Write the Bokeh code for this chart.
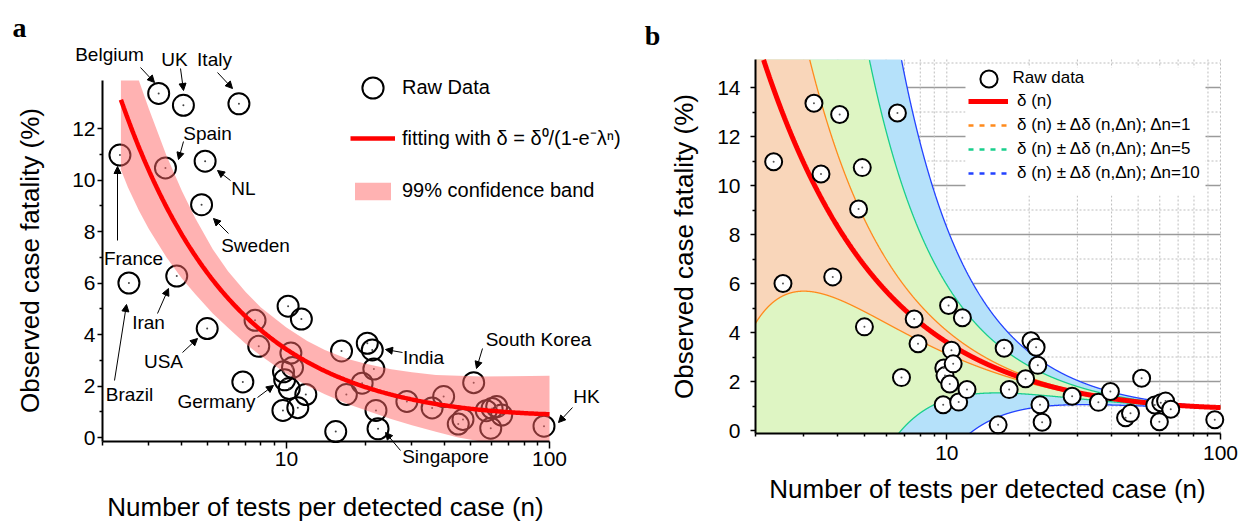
import numpy as np
from bokeh.plotting import figure
from bokeh.models import (Range1d, FixedTicker, BasicTickFormatter, Legend, LegendItem,
                          Label, Arrow, NormalHead, BoxAnnotation)
from bokeh.layouts import row
from bokeh.embed import file_html
from bokeh.resources import INLINE

FONT = "Liberation Sans"

# ---------------- data ----------------
tests_per_case = [2.33, 2.52, 3.27, 3.47, 3.83, 4.06, 4.76, 4.91, 5.0, 6.6,
                  6.83, 7.6, 7.85, 9.7, 9.75, 9.85, 10.15, 10.25, 10.4, 10.55,
                  11.05, 11.4, 11.85, 15.4, 16.2, 16.9, 19.4, 20.3, 21.2, 21.5,
                  21.9, 22.3, 28.7, 35.8, 39.6, 45.0, 46.9, 51.5, 57.5, 60.5,
                  63.0, 65.8, 59.8, 95.3]
fatality = [10.97, 6.0, 13.36, 10.47, 6.27, 12.9, 9.04, 10.73, 4.23, 12.96,
            2.16, 4.55, 3.54, 1.05, 2.55, 2.24, 5.1, 1.9, 3.28, 2.72,
            1.16, 4.6, 1.67, 0.23, 3.36, 1.67, 2.11, 3.66, 3.4, 2.66,
            1.05, 0.34, 1.4, 1.15, 1.59, 0.52, 0.7, 2.13, 1.04, 1.13,
            1.2, 0.87, 0.36, 0.44]

# fitted model delta = d0 / (1 - exp(-lambda n))
FIT_A = dict(d0=0.85, lam=0.0285, n_start=2.35)
FIT_B = dict(d0=0.88, lam=0.028, k=1.5)
DELTA_N = [1, 5, 10]

# 99% confidence band of panel a
band_n = [2.35, 2.5, 2.75, 3.0, 3.5, 4.0, 4.5, 5.25, 6, 7, 8, 10, 12, 14, 17, 20,
          25, 30, 37, 45, 55, 70, 85, 100]
band_upper = [16.1, 15.16, 13.87, 12.77, 10.95, 9.59, 8.52, 7.31, 6.46, 5.65, 5.05,
              4.27, 3.75, 3.40, 3.06, 2.86, 2.65, 2.53, 2.43, 2.40, 2.37, 2.38, 2.39, 2.40]
band_lower = [10.4, 9.71, 8.82, 8.1, 7.0, 6.18, 5.57, 4.82, 4.26, 3.64, 3.17, 2.48,
              2.01, 1.68, 1.31, 1.06, 0.72, 0.48, 0.22, 0.0, -0.2, -0.4, -0.52, -0.6]

x_major = [10, 100]
x_minor = [2, 3, 4, 5, 6, 7, 8, 9, 20, 30, 40, 50, 60, 70, 80, 90]


def model(n, d0, lam):
    return d0 / (1 - np.exp(-lam * n))


def model_slope(n, d0, lam):
    e = np.exp(-lam * n)
    return d0 * lam * e / (1 - e) ** 2


# ---------------- geometry (page pixels of the reference) ----------------
H = 521
WA, WB = 620, 618           # canvas widths: a spans 0..620, b spans 620..1238
A_X2, A_X100, A_Y0, A_PPU = 102, 549, 437, 25.75    # n=2 / n=100 columns, y=0 row, px per %
B_X2, B_X100, B_Y0, B_PPU = 755, 1220, 430, 24.5
A_AX_Y, A_AX_TOP = 441, 80      # x-axis row, top of y-axis (panel a)
B_AX_Y, B_AX_TOP = 433, 59


def ax(px):
    return 10 ** (np.log10(2) + (px - A_X2) / (A_X100 - A_X2) * np.log10(50))


def ay(py):
    return (A_Y0 - py) / A_PPU


def bx(px):
    return 10 ** (np.log10(2) + (px - B_X2) / (B_X100 - B_X2) * np.log10(50))


def by(py):
    return (B_Y0 - py) / B_PPU


def make_fig(width, x0, x1, y0, y1):
    p = figure(width=width, height=H, x_axis_type="log",
               x_range=Range1d(x0, x1), y_range=Range1d(y0, y1),
               min_border=0, min_border_left=0, min_border_right=0,
               min_border_top=0, min_border_bottom=0, title_location=None,
               output_backend="svg", toolbar_location=None)
    p.outline_line_color = None
    p.grid.visible = False
    return p


def style_axes(p, ytop, y_lo, y_hi, x_std, y_std, x_maj_out, x_min_out):
    xt = FixedTicker(ticks=x_major, minor_ticks=x_minor)
    yt = FixedTicker(ticks=list(range(0, ytop + 1, 2)),
                     minor_ticks=list(range(1, ytop + 1, 2)))
    xa, ya = p.xaxis[0], p.yaxis[0]
    xa.ticker = xt
    ya.ticker = yt
    xa.formatter = BasicTickFormatter()
    xa.fixed_location = y_lo
    ya.fixed_location = 2
    xa.bounds = (2, 100)
    ya.bounds = (y_lo, y_hi)
    for a in (xa, ya):
        a.axis_line_width = 2
        a.axis_line_color = "black"
        a.major_tick_line_width = 1.5
        a.minor_tick_line_width = 1.5
        a.major_tick_line_color = "black"
        a.minor_tick_line_color = "black"
        a.major_tick_in = 0
        a.minor_tick_in = 0
        a.major_label_text_font = FONT
        a.major_label_text_font_size = "21px"
        a.major_label_text_color = "black"
    xa.major_label_standoff = x_std
    ya.major_label_standoff = y_std
    xa.major_tick_out = x_maj_out
    xa.minor_tick_out = x_min_out
    ya.major_tick_out = 5
    ya.minor_tick_out = 3


def text(p, x, y, s, size, angle=0.0, font=FONT, style="normal", baseline="middle"):
    p.add_layout(Label(x=x, y=y, text=s, text_font=font, text_font_size=size,
                       text_font_style=style, text_align="center",
                       text_baseline=baseline, text_color="black", angle=angle))


LEG_STYLE = dict(padding=0, margin=0, border_line_alpha=0, background_fill_alpha=0,
                 label_text_font=FONT, label_text_color="black")

# ================= panel a =================
AY_LO, AY_HI = ay(A_AX_Y), ay(A_AX_TOP)
pa = make_fig(WA, ax(0), ax(WA), ay(H), ay(0))
style_axes(pa, 12, AY_LO, AY_HI, 3, 2, 7, 4)

ra = pa.scatter(tests_per_case, fatality, size=21, marker="circle",
                fill_alpha=0, line_color="black", line_width=2)
pa.scatter(tests_per_case, fatality, size=2, marker="circle",
           fill_color="#444444", line_color=None)
band = pa.varea(x=band_n, y1=np.maximum(band_lower, AY_LO), y2=np.minimum(band_upper, AY_HI),
                fill_color="#ff6666", fill_alpha=0.5)
na = np.geomspace(FIT_A["n_start"], 100, 300)
fit = pa.line(na, model(na, FIT_A["d0"], FIT_A["lam"]), line_color="#ff0000", line_width=4.5)

pa.add_layout(Legend(items=[LegendItem(label="Raw Data", renderers=[ra])],
                     location=(346, H - 113.5), glyph_width=53, glyph_height=53,
                     label_standoff=3, spacing=0, label_text_font_size="20px", **LEG_STYLE))
pa.add_layout(Legend(items=[LegendItem(label="fitting with δ = δ⁰/(1-e⁻λⁿ)", renderers=[fit]),
                            LegendItem(label="99% confidence band", renderers=[band])],
                     location=(350, H - 202), glyph_width=45, glyph_height=22,
                     label_standoff=7, spacing=28, label_text_font_size="20px", **LEG_STYLE))

# country annotations: text, text centre, arrow start, arrow end (reference pixels)
ann_a = [
    ("Belgium", (109, 54), (140, 67), (154, 82)),
    ("UK", (174, 59), (180, 68), (183, 90)),
    ("Italy", (214, 59), (217, 72), (232, 88)),
    ("Spain", (207, 133), (183, 141), (178, 159)),
    ("NL", (243, 188), (230, 180), (217, 170)),
    ("Sweden", (255, 245), (228, 233), (213, 218)),
    ("France", (133, 258), (117, 240), (117, 166)),
    ("Brazil", (129, 394), (114, 380), (126, 304)),
    ("Iran", (148, 322), (157, 313), (168, 288)),
    ("USA", (163, 361), (182, 352), (197, 338)),
    ("Germany", (216, 401), (257, 397), (273, 385)),
    ("India", (423, 357), (402, 352), (385, 349)),
    ("South Korea", (538, 339), (482, 348), (476, 368)),
    ("HK", (586, 396), (572, 407), (558, 422)),
    ("Singapore", (445, 456), (400, 450), (385, 432)),
]
for s, (tx, ty), (sx, sy), (ex, ey) in ann_a:
    text(pa, ax(tx), ay(ty), s, "19px")
    pa.add_layout(Arrow(x_start=ax(sx), y_start=ay(sy), x_end=ax(ex), y_end=ay(ey),
                        line_width=1, line_color="black",
                        end=NormalHead(size=7, fill_color="black", line_color="black")))

text(pa, ax(325), ay(506), "Number of tests per detected case (n)", "26px")
text(pa, ax(29), ay(260), "Observed case fatality (%)", "26px", angle=np.pi / 2)
text(pa, ax(19), ay(27), "a", "28px", font="Liberation Serif", style="bold",
     baseline="alphabetic")

# ================= panel b =================
BY_LO, BY_HI = by(B_AX_Y), by(B_AX_TOP)
pb = make_fig(WB, bx(WA), bx(WA + WB), by(H), by(0))
style_axes(pb, 14, BY_LO, BY_HI, 6, 10, 6, 3)

# grid lines from the tick lists
y_maj = list(range(2, 15, 2))
y_min = list(range(1, 16, 2))
x_grid = [v for v in x_minor if v > 2] + x_major
pb.segment(x0=[2] * len(y_maj), y0=y_maj, x1=[100] * len(y_maj), y1=y_maj,
           line_color="#9a9a9a", line_width=1.3, level="image")
pb.segment(x0=[2] * len(y_min), y0=y_min, x1=[100] * len(y_min), y1=y_min,
           line_color="#bdbdbd", line_width=1, line_dash="2 2", level="image")
pb.segment(x0=x_grid, y0=[BY_LO] * len(x_grid), x1=x_grid, y1=[BY_HI] * len(x_grid),
           line_color="#bdbdbd", line_width=1, line_dash="2 2", level="image")

pb.add_layout(BoxAnnotation(left=bx(965), right=bx(1205), bottom=by(195), top=by(67),
                            fill_color="white", fill_alpha=1, line_alpha=0, level="underlay"))

nb = np.geomspace(2, 100, 3000)
db = model(nb, FIT_B["d0"], FIT_B["lam"])
sb = model_slope(nb, FIT_B["d0"], FIT_B["lam"])


def inside(v):
    v = np.array(v, dtype=float)
    v[(v > BY_HI) | (v < BY_LO)] = np.nan
    return v


fill_colors = {1: "#f9d6ba", 5: "#def5c3", 10: "#b5e1fa"}
line_colors = {1: "#ff8a1c", 5: "#19cf8c", 10: "#2342ff"}
for dn in sorted(DELTA_N, reverse=True):
    half = FIT_B["k"] * dn * sb
    pb.varea(x=nb, y1=np.clip(db - half, BY_LO, BY_HI), y2=np.clip(db + half, BY_LO, BY_HI),
             fill_color=fill_colors[dn], fill_alpha=1)
for dn in sorted(DELTA_N, reverse=True):
    half = FIT_B["k"] * dn * sb
    pb.line(nb, inside(db - half), line_color=line_colors[dn], line_width=1.3)
    pb.line(nb, inside(db + half), line_color=line_colors[dn], line_width=1.3)

red_b = pb.line(nb, inside(db), line_color="#ff0000", line_width=5)
rb = pb.scatter(tests_per_case, fatality, size=17, marker="circle",
                fill_color="white", line_color="black", line_width=2)
pb.scatter(tests_per_case, fatality, size=2, marker="circle",
           fill_color="#555555", line_color=None)

# legend-only line styles (a single undefined point, nothing is drawn in the plot)
proxies = [pb.line(x=[np.nan], y=[np.nan], line_color=line_colors[dn], line_width=2.5,
                   line_dash="5 6") for dn in DELTA_N]

pb.add_layout(Legend(items=[LegendItem(label="Raw data", renderers=[rb])],
                     location=(966.5 - WA, H - 99.5), glyph_width=43, glyph_height=43,
                     label_standoff=3, spacing=0, label_text_font_size="17px", **LEG_STYLE))
pb.add_layout(Legend(items=[LegendItem(label="δ (n)", renderers=[red_b])] +
                     [LegendItem(label=f"δ (n) ± Δδ (n,Δn); Δn={dn}", renderers=[pr])
                      for dn, pr in zip(DELTA_N, proxies)],
                     location=(968 - WA, H - 182.5), glyph_width=40, glyph_height=20,
                     label_standoff=9, spacing=4, label_text_font_size="17px", **LEG_STYLE))

text(pb, bx(987), by(488), "Number of tests per detected case (n)", "26px")
text(pb, bx(683), by(246), "Observed case fatality (%)", "26px", angle=np.pi / 2)
text(pb, bx(652), by(35), "b", "28px", font="Liberation Serif", style="bold",
     baseline="alphabetic")

layout = row(pa, pb)
open("out.html", "w").write(file_html(layout, INLINE))
